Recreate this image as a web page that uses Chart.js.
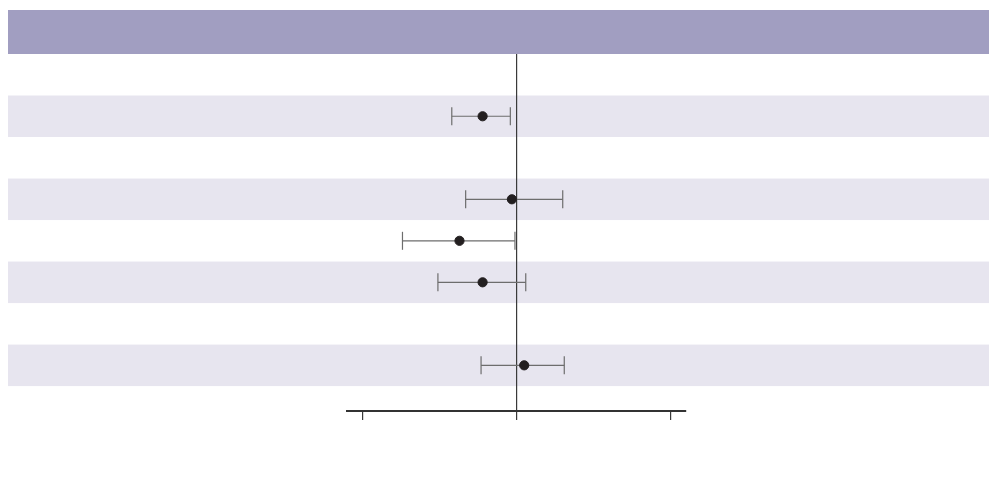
<!DOCTYPE html>
<html>
<head>
<meta charset="utf-8">
<script src="https://cdn.jsdelivr.net/npm/chart.js@4"></script>
<style>
  html, body { margin: 0; padding: 0; background: #ffffff; }
  #wrap { width: 997px; height: 497px; position: relative; }
</style>
</head>
<body>
<div id="wrap"><canvas id="forestChart"></canvas></div>
<script>
// Rows below the header (0 = first row); empty rows are subgroup headings
const rowCount = 8;
const shadedRows = [1, 3, 5, 7];

// Estimates with confidence intervals
const rowIndex = [1, 3, 4, 5, 7];
const estimate = [-0.22, -0.03, -0.37, -0.22, 0.05];
const lower = [-0.42, -0.33, -0.74, -0.51, -0.23];
const upper = [-0.04, 0.30, -0.01, 0.06, 0.31];

// Axis ticks
const xTicks = [-1, 0, 1];
const xMin = -1.1;
const xMax = 1.1;

// Header band and row stripes drawn behind the plot
const bandsPlugin = {
    id: 'bands',
    beforeDraw(chart) {
        const ctx = chart.ctx;
        const y = chart.scales.y;
        const left = 8;
        const right = chart.width - 8;
        ctx.save();
        ctx.fillStyle = '#a19ec1';
        ctx.fillRect(left, 10, right - left, chart.chartArea.top - 10);
        ctx.fillStyle = '#e7e5ef';
        shadedRows.forEach(r => {
            const top = y.getPixelForValue(r - 0.5);
            const bottom = y.getPixelForValue(r + 0.5);
            ctx.fillRect(left, top, right - left, bottom - top);
        });
        ctx.restore();
    }
};

document.addEventListener('DOMContentLoaded', function() {
    const datasets = [];

    // One line per interval, caps drawn as rotated line points
    rowIndex.forEach((r, i) => {
        datasets.push({
            type: 'line',
            data: [{ x: lower[i], y: r }, { x: upper[i], y: r }],
            borderColor: '#6d6d6d',
            borderWidth: 1.2,
            pointStyle: 'line',
            pointRotation: 90,
            pointRadius: 9,
            pointBorderColor: '#6d6d6d',
            pointBorderWidth: 1.2,
            fill: false,
            order: 2
        });
    });

    datasets.push({
        type: 'scatter',
        data: rowIndex.map((r, i) => ({ x: estimate[i], y: r })),
        backgroundColor: '#231f20',
        borderColor: '#231f20',
        pointRadius: 4.6,
        order: 1
    });

    const ctx = document.getElementById('forestChart').getContext('2d');
    new Chart(ctx, {
        type: 'scatter',
        data: { datasets: datasets },
        options: {
            responsive: true,
            maintainAspectRatio: false,
            animation: false,
            layout: {
                padding: { top: 54, left: 347, right: 311, bottom: 77 }
            },
            plugins: {
                legend: { display: false },
                tooltip: { enabled: false }
            },
            scales: {
                x: {
                    type: 'linear',
                    min: xMin,
                    max: xMax,
                    afterBuildTicks: function(scale) {
                        scale.ticks = xTicks.map(v => ({ value: v }));
                    },
                    ticks: { display: false },
                    grid: {
                        color: c => (c.tick && c.tick.value === 0) ? '#3a3a3a' : 'rgba(0,0,0,0)',
                        lineWidth: 1.2,
                        drawTicks: true,
                        tickLength: 9,
                        tickColor: '#3a3a3a',
                        tickWidth: 1.2
                    },
                    border: { display: true, color: '#333333', width: 2 }
                },
                y: {
                    type: 'linear',
                    reverse: true,
                    min: -0.5,
                    max: rowCount + 0.1,
                    display: false
                }
            }
        },
        plugins: [bandsPlugin]
    });
});
</script>
</body>
</html>
